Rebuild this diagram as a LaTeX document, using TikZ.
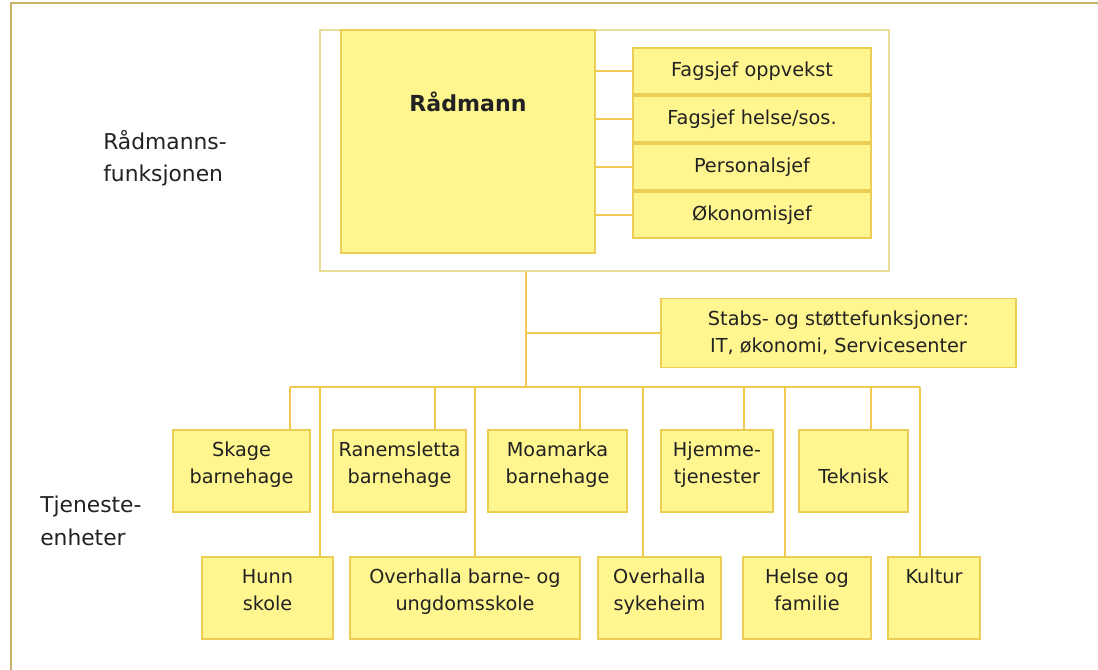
\documentclass[tikz,border=0pt]{standalone}
\usepackage{fontspec}
\setmainfont{DejaVu Sans}
\usetikzlibrary{positioning}

\definecolor{boxfill}{RGB}{255,246,143}
\definecolor{boxline}{RGB}{236,206,86}
\definecolor{linkline}{RGB}{242,200,82}
\definecolor{officeline}{RGB}{232,220,150}
\definecolor{frameline}{RGB}{200,178,100}
\definecolor{ink}{RGB}{34,34,34}

\tikzstyle{tag} = [rectangle, draw=boxline, fill=boxfill, line width=1.4pt, align=center, inner sep=0pt, text=ink, font=\fontsize{13.7}{19.2}\selectfont]
\tikzstyle{unit} = [tag, text height=1.325cm, text depth=0.725cm]
\tikzstyle{unitone} = [tag, text height=0.65cm, text depth=1.4cm]
\tikzstyle{lead} = [tag, minimum width=5.95cm, minimum height=1.15cm]
\tikzstyle{office} = [rectangle, draw=officeline, line width=1pt, minimum width=14.225cm, minimum height=6.025cm]
\tikzstyle{link} = [draw=linkline, line width=1.4pt]
\tikzstyle{side} = [align=left, anchor=west, inner sep=0pt, text=ink, font=\fontsize{15.5}{23}\selectfont]

\begin{document}
\begin{tikzpicture}[x=0.025cm, y=-0.025cm, node distance=0pt]
        \useasboundingbox (0,0) rectangle (1098,670);
        \draw[frameline, line width=1.5pt] (11,670) -- (11,3) -- (1098,3);

        % raadmannsfunksjonen
        \node[office] (office) at (604.5,150.5) {};
        \node[tag, minimum width=6.35cm, text height=2.05cm, text depth=3.525cm, font=\bfseries\fontsize{15.7}{18}\selectfont] (rad) at (468,141.5) {Rådmann};
        \node[lead] (f1) at (752,71) {Fagsjef oppvekst};
        \node[lead, below=of f1] (f2) {Fagsjef helse/sos.};
        \node[lead, below=of f2] (f3) {Personalsjef};
        \node[lead, below=of f3] (f4) {Økonomisjef};
        \node[side] (lblrad) at (103,158) {Rådmanns-\\funksjonen};

        \node[tag, minimum width=8.875cm, minimum height=1.725cm] (staff) at (838.5,333) {Stabs- og støttefunksjoner:\\IT, økonomi, Servicesenter};

        % tjenesteenheter
        \node[unit, minimum width=3.425cm] (skage) at (241.5,471) {Skage\\barnehage};
        \node[unit, minimum width=3.325cm] (ranem) at (399.5,471) {Ranemsletta\\barnehage};
        \node[unit, minimum width=3.475cm] (moa) at (557.5,471) {Moamarka\\barnehage};
        \node[unit, minimum width=2.8cm] (hjem) at (717,471) {Hjemme-\\tjenester};
        \node[unit, minimum width=2.725cm] (tek) at (853.5,471) {\mbox{}\\Teknisk};
        \node[unit, minimum width=3.275cm] (hunn) at (267.5,598) {Hunn\\skole};
        \node[unit, minimum width=5.75cm] (obu) at (465,598) {Overhalla barne- og\\ungdomsskole};
        \node[unit, minimum width=3.075cm] (syke) at (659.5,598) {Overhalla\\sykeheim};
        \node[unit, minimum width=3.2cm] (helse) at (807,598) {Helse og\\familie};
        \node[unitone, minimum width=2.3cm] (kultur) at (934,598) {Kultur};
        \node[side] (lbltj) at (40,521) {Tjeneste-\\enheter};

        \foreach \f in {f1,f2,f3,f4}
          \draw[link] (\f.west -| rad.east) -- (\f.west);

        \coordinate (trunk) at (526,387);
        \draw[link] (office.south -| trunk) -- (trunk);
        \draw[link] (trunk |- staff.west) -- (staff.west);

        \foreach \x/\n in {290/skage, 320/hunn, 435/ranem, 475/obu, 580/moa, 643/syke, 744/hjem, 785/helse, 871/tek, 920/kultur}{
          \coordinate (d\n) at (\x,387);
          \draw[link] (d\n) -- (d\n |- \n.north);
        }
        \draw[link] (dskage) -- (dkultur);
    \end{tikzpicture}
\end{document}
